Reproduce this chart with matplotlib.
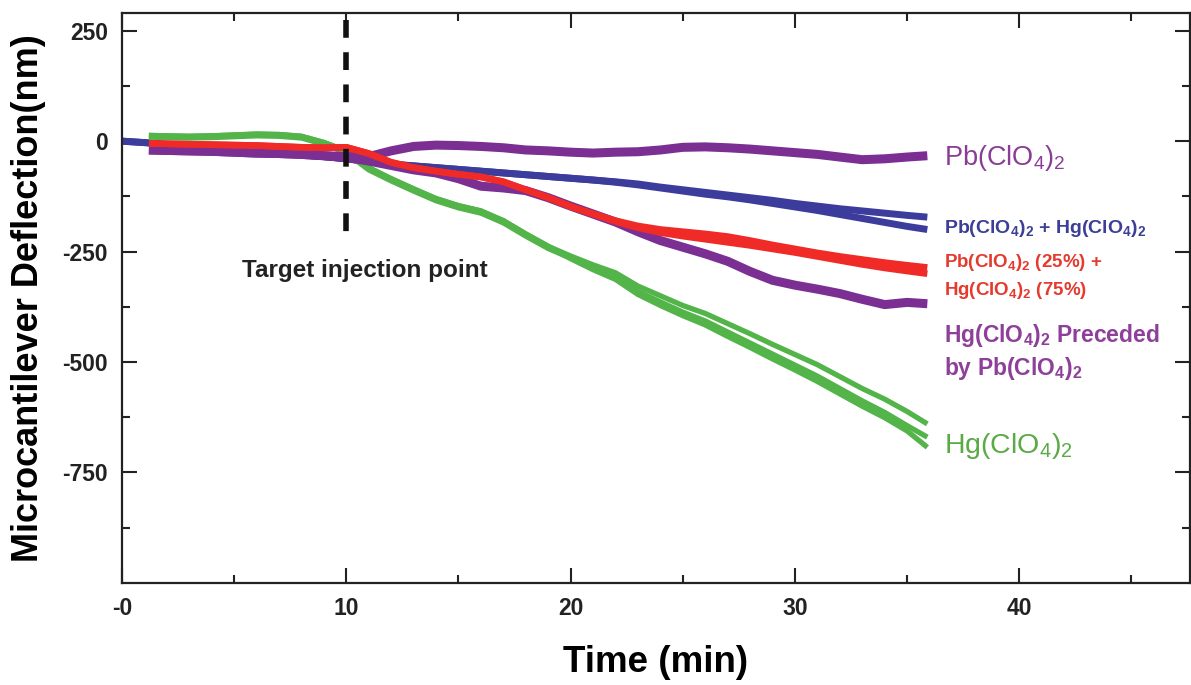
import matplotlib
matplotlib.use("Agg")
import matplotlib.pyplot as plt
from matplotlib.ticker import MultipleLocator, FixedLocator

plt.rcParams['font.family'] = ['Liberation Sans', 'DejaVu Sans']
plt.rcParams['mathtext.fontset'] = 'custom'
plt.rcParams['mathtext.rm'] = 'Liberation Sans'
plt.rcParams['mathtext.bf'] = 'Liberation Sans:bold'
plt.rcParams['mathtext.default'] = 'regular'

# time (min) shared by the traces
T = [1.2, 2, 3, 4, 5, 6, 7, 8, 9, 10, 11, 12, 13, 14, 15, 16, 17, 18,
     19, 20, 21, 22, 23, 24, 25, 26, 27, 28, 29, 30, 31, 32, 33, 34, 35, 35.9]
T_BLUE = [0] + T

# deflection (nm)
pb = [-20, -21, -22, -23, -25, -27, -28, -30, -33, -35, -35, -22, -12, -9, -10, -12, -15, -20,
      -22, -25, -27, -25, -24, -20, -14, -13, -15, -18, -22, -26, -30, -36, -42, -40, -36, -33]
pb_hg_a = [0, -4, -8, -12, -16, -20, -24, -28, -31, -35, -40, -46, -52, -56, -60, -64, -68, -72, -76,
           -80, -84, -88, -92, -97, -104, -110, -116, -122, -128, -134, -141, -147, -153, -158, -163, -168, -172]
pb_hg_b = [0, -4, -8, -12, -16, -20, -24, -28, -31, -35, -40, -46, -52, -56, -60, -64, -68, -72, -76,
           -80, -84, -88, -93, -99, -106, -113, -120, -126, -133, -141, -149, -157, -166, -175, -184, -193, -200]
mix_a = [-5, -6, -7, -8, -9, -10, -12, -14, -15, -14, -28, -48, -60, -68, -75, -81, -92, -110,
         -128, -148, -165, -180, -192, -200, -205, -210, -216, -225, -235, -244, -253, -261, -268, -275, -281, -286]
mix_b = [-5, -6, -7, -8, -9, -10, -12, -14, -15, -14, -28, -48, -60, -68, -75, -81, -92, -110,
         -128, -148, -165, -182, -196, -207, -215, -222, -229, -236, -244, -252, -261, -270, -279, -287, -294, -300]
hg_after_pb = [-20, -21, -22, -23, -25, -27, -28, -30, -33, -37, -45, -55, -65, -72, -85, -102, -106, -112,
               -128, -147, -165, -183, -205, -225, -240, -255, -272, -295, -315, -326, -335, -345, -358, -370, -365, -368]
hg_a = [13, 12, 11, 12, 14, 16, 15, 11, -3, -22, -60, -85, -108, -130, -146, -158, -180, -210,
        -238, -260, -280, -298, -328, -350, -372, -390, -413, -436, -460, -483, -506, -533, -560, -584, -612, -640]
hg_b = [9, 8, 7, 8, 10, 12, 11, 7, -7, -27, -65, -90, -113, -135, -151, -163, -185, -215,
        -243, -265, -288, -308, -340, -364, -387, -407, -432, -457, -482, -507, -532, -560, -588, -614, -644, -670]
hg_c = [13, 12, 11, 12, 14, 16, 15, 11, -3, -22, -60, -85, -108, -130, -146, -158, -180, -210,
        -238, -266, -291, -313, -347, -372, -395, -416, -442, -467, -493, -518, -544, -572, -600, -626, -656, -693]

INJECT_T = 10

fig = plt.figure(figsize=(11.91, 6.85), dpi=100)
ax = fig.add_axes([0.1024, 0.149, 0.8966, 0.832])

purple = '#7b2f92'
blue = '#3b3c9c'
red = '#f02a27'
green = '#52b449'

ax.plot(T_BLUE, pb_hg_a, color=blue, lw=5, solid_capstyle='butt')
ax.plot(T_BLUE, pb_hg_b, color=blue, lw=5, solid_capstyle='butt')
for g in (hg_a, hg_b, hg_c):
    ax.plot(T, g, color=green, lw=3.8, solid_capstyle='butt')
ax.plot(T, pb, color=purple, lw=6.5, solid_capstyle='butt')
ax.plot(T, hg_after_pb, color=purple, lw=6.5, solid_capstyle='butt')
ax.plot(T, mix_a, color=red, lw=4.8, solid_capstyle='butt')
ax.plot(T, mix_b, color=red, lw=4.8, solid_capstyle='butt')

# injection marker
ax.plot([INJECT_T, INJECT_T], [274, -213], color='#111111', lw=4, ls=(0, (3.2, 2.6)))
ax.text(5.35, -308, 'Target injection point', fontsize=17.5, fontweight='bold',
        color='#222222', va='baseline')

# curve labels
lx = 36.66
ax.text(lx, -54, r'Pb(ClO$_4$)$_2$', fontsize=19.5, color='#8a3d96', va='baseline')
ax.text(lx, -208, r'Pb(ClO$_4$)$_2$ + Hg(ClO$_4$)$_2$', fontsize=14, fontweight='bold',
        color='#3c3e97', va='baseline')
ax.text(lx, -285, r'Pb(ClO$_4$)$_2$ (25%) +', fontsize=13.5, fontweight='bold',
        color='#e53a2e', va='baseline')
ax.text(lx, -348, r'Hg(ClO$_4$)$_2$ (75%)', fontsize=13.5, fontweight='bold',
        color='#e53a2e', va='baseline')
ax.text(lx, -455, r'Hg(ClO$_4$)$_2$ Preceded', fontsize=16.5, fontweight='bold',
        color='#8e3f9a', va='baseline')
ax.text(lx, -529, r'by Pb(ClO$_4$)$_2$', fontsize=16.5, fontweight='bold',
        color='#8e3f9a', va='baseline')
ax.text(lx, -706, r'Hg(ClO$_4$)$_2$', fontsize=20.5, color='#5aaa46', va='baseline')

ax.set_xlim(0, 47.6)
ax.set_ylim(-1000, 290)
ax.set_xticks([0, 10, 20, 30, 40])
ax.set_xticklabels(['-0', '10', '20', '30', '40'])
ax.xaxis.set_minor_locator(MultipleLocator(5))
ax.set_yticks([250, 0, -250, -500, -750])
ax.set_yticklabels(['250', '0', '-250', '-500', '-750'])
ax.yaxis.set_minor_locator(FixedLocator([125, -125, -375, -625, -875]))

ax.tick_params(which='both', direction='in', top=True, right=True, width=1.5,
               colors='#222222', labelsize=16.5)
ax.tick_params(which='major', length=11, pad=10)
ax.tick_params(which='minor', length=6)
for lab in ax.get_xticklabels() + ax.get_yticklabels():
    lab.set_fontweight('bold')
for s in ax.spines.values():
    s.set_linewidth(1.6)
    s.set_color('#222222')

ax.set_xlabel('Time (min)', fontsize=26.5, fontweight='bold', labelpad=18)
ax.set_ylabel('Microcantilever Deflection(nm)', fontsize=26, fontweight='bold', labelpad=12)

fig.savefig('out.png', dpi=100)
